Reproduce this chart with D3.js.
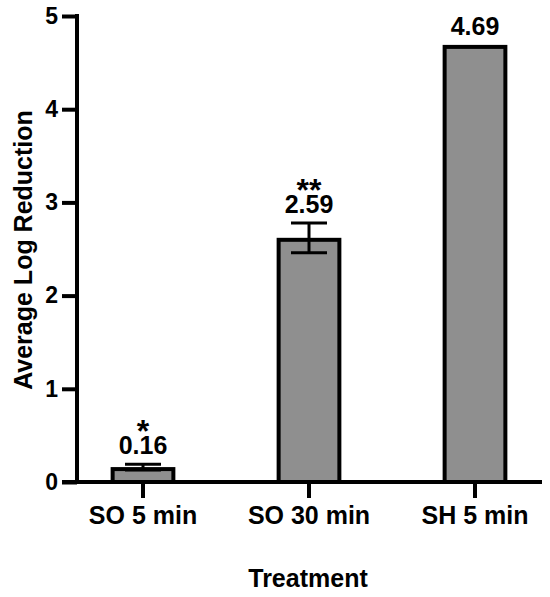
<!DOCTYPE html>
<html>
<head>
<meta charset="utf-8">
<script src="https://cdn.jsdelivr.net/npm/d3@7"></script>
<style>
  html, body { margin: 0; padding: 0; background: #fff; }
  svg { display: block; font-family: "Liberation Sans", Arial, Helvetica, sans-serif; font-weight: bold; }
</style>
</head>
<body>
<svg id="chart" width="550" height="597"></svg>
<script>
const categories = ["SO 5 min", "SO 30 min", "SH 5 min"];
const values = [0.16, 2.62, 4.69];
const errors = [0.03, 0.16, 0];
const valueLabels = ["0.16", "2.59", "4.69"];
const significance = ["*", "**", ""];
const yTicks = [0, 1, 2, 3, 4, 5];

const svg = d3.select("#chart");
const axisX0 = 77, axisX1 = 542;
const y = d3.scaleLinear().domain([0, 5]).range([482, 16]);
const x = d3.scaleBand().domain(categories).range([60, 558])
  .paddingInner(0.61).paddingOuter(0.305);

const sw = 4;
const fill = "#8f8f8f";

// bars
svg.append("g").selectAll("rect").data(categories).join("rect")
  .attr("x", d => x(d) + sw / 2)
  .attr("y", (d, i) => y(values[i]) + sw / 2)
  .attr("width", x.bandwidth() - sw)
  .attr("height", (d, i) => y(0) - y(values[i]) - sw / 2)
  .attr("fill", fill)
  .attr("stroke", "#000")
  .attr("stroke-width", sw);

// error bars
const eg = svg.append("g").attr("stroke", "#000").attr("stroke-width", 3);
categories.forEach((c, i) => {
  if (!errors[i]) return;
  const cx = x(c) + x.bandwidth() / 2;
  const hi = y(values[i] + errors[i]);
  const lo = y(values[i] - errors[i]);
  eg.append("line").attr("x1", cx).attr("x2", cx).attr("y1", hi).attr("y2", lo);
  eg.append("line").attr("x1", cx - 18).attr("x2", cx + 18).attr("y1", hi).attr("y2", hi);
  eg.append("line").attr("x1", cx - 18).attr("x2", cx + 18).attr("y1", lo).attr("y2", lo);
});

// value labels (significance marks and values in one text element)
categories.forEach((c, i) => {
  const cx = x(c) + x.bandwidth() / 2;
  const top = y(values[i] + errors[i]);
  const base = top - 10;
  const t = svg.append("text").attr("text-anchor", "middle").attr("fill", "#000");
  if (significance[i]) {
    t.append("tspan").attr("x", cx).attr("y", base - 12)
      .attr("font-size", 32).text(significance[i]);
  }
  t.append("tspan").attr("x", cx).attr("y", base)
    .attr("font-size", 25).text(valueLabels[i]);
});

// y axis
const yAxis = svg.append("g").attr("transform", `translate(${axisX0},0)`)
  .call(d3.axisLeft(y).tickValues(yTicks).tickFormat(d3.format("d"))
    .tickSize(15).tickSizeOuter(0).tickPadding(4));
yAxis.select(".domain").remove();
yAxis.selectAll(".tick line").attr("stroke", "#000").attr("stroke-width", sw);
yAxis.selectAll(".tick text").attr("font-size", 23).attr("font-family", null).attr("fill", "#000");
svg.append("line").attr("x1", axisX0).attr("x2", axisX0)
  .attr("y1", y(5) - sw / 2).attr("y2", y(0) + sw / 2)
  .attr("stroke", "#000").attr("stroke-width", sw);

// x axis
const xAxis = svg.append("g").attr("transform", `translate(0,${y(0)})`)
  .call(d3.axisBottom(x).tickSize(16).tickSizeOuter(0).tickPadding(8));
xAxis.select(".domain").remove();
xAxis.selectAll(".tick line").attr("stroke", "#000").attr("stroke-width", sw);
xAxis.selectAll(".tick text").attr("font-size", 25).attr("font-family", null).attr("fill", "#000");
svg.append("line").attr("x1", 62).attr("x2", axisX1)
  .attr("y1", y(0)).attr("y2", y(0))
  .attr("stroke", "#000").attr("stroke-width", sw);

// axis titles
svg.append("text").attr("x", 308).attr("y", 587)
  .attr("text-anchor", "middle").attr("font-size", 25).attr("fill", "#000")
  .text("Treatment");
svg.append("text").attr("transform", "translate(32,250) rotate(-90)")
  .attr("text-anchor", "middle").attr("font-size", 25).attr("fill", "#000")
  .text("Average Log Reduction");
</script>
</body>
</html>
